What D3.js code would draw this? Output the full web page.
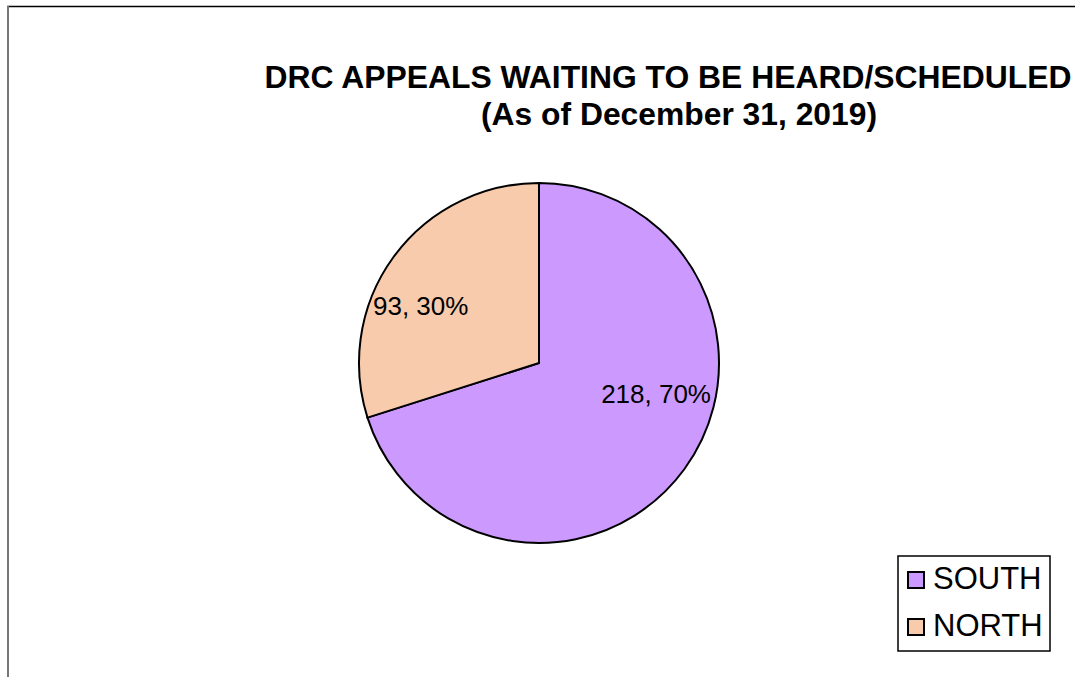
<!DOCTYPE html>
<html>
<head>
<meta charset="utf-8">
<script src="https://cdn.jsdelivr.net/npm/d3@7"></script>
<style>
  body { margin: 0; background: #fff; }
  svg { display: block; font-family: "Liberation Sans", Arial, sans-serif; }
</style>
</head>
<body>
<div id="chart"></div>
<script>
var categories = ['SOUTH', 'NORTH'],
    values = [218, 93],
    colors = ['#CC99FF', '#F8CBAD'],
    titleLines = ['DRC APPEALS WAITING TO BE HEARD/SCHEDULED', '(As of December 31, 2019)'];

var width = 1075, height = 677;

var svg = d3.select('#chart').append('svg')
    .attr('width', width)
    .attr('height', height);

// frame edges (only top and left are in view)
svg.append('line').attr('x1', 7).attr('y1', 6.5).attr('x2', width).attr('y2', 6.5)
    .attr('stroke', '#000').attr('stroke-width', 1.5);
svg.append('line').attr('x1', 8).attr('y1', 6).attr('x2', 8).attr('y2', height)
    .attr('stroke', '#777').attr('stroke-width', 2);

// title, squeezed to the narrow look of the original
svg.append('text')
    .attr('x', 668).attr('y', 88)
    .attr('text-anchor', 'middle')
    .attr('font-weight', 'bold').attr('font-size', 32)
    .attr('textLength', 807).attr('lengthAdjust', 'spacingAndGlyphs')
    .text(titleLines[0]);
svg.append('text')
    .attr('x', 679).attr('y', 125)
    .attr('text-anchor', 'middle')
    .attr('font-weight', 'bold').attr('font-size', 32)
    .attr('textLength', 396).attr('lengthAdjust', 'spacingAndGlyphs')
    .text(titleLines[1]);

// pie
var cx = 539, cy = 363, r = 180;
var total = d3.sum(values);
var data = categories.map(function(c, i) { return { name: c, value: values[i], color: colors[i] }; });

var pie = d3.pie().sort(null).value(function(d) { return d.value; });
var arc = d3.arc().innerRadius(0).outerRadius(r);

var g = svg.append('g').attr('transform', 'translate(' + cx + ',' + cy + ')');
var arcs = pie(data);

g.selectAll('path').data(arcs).enter().append('path')
    .attr('d', arc)
    .attr('fill', function(d) { return d.data.color; })
    .attr('stroke', '#000').attr('stroke-width', 2)
    .attr('stroke-linejoin', 'miter');

// data labels sit against the rim, like the spreadsheet does
g.selectAll('text.lbl').data(arcs).enter().append('text')
    .attr('class', 'lbl')
    .attr('font-size', 26)
    .attr('text-anchor', function(d, i) { return i === 0 ? 'end' : 'start'; })
    .attr('x', function(d, i) { return i === 0 ? 172 : -166; })
    .attr('y', function(d, i) { return i === 0 ? 40 : -48; })
    .text(function(d) {
      return d.data.value + ', ' + Math.round(d.data.value / total * 100) + '%';
    });

// legend
var legend = svg.append('g');
legend.append('rect')
    .attr('x', 898).attr('y', 556).attr('width', 152).attr('height', 95)
    .attr('fill', '#fff').attr('stroke', '#000').attr('stroke-width', 1.5);

var items = legend.selectAll('g.item').data(data).enter().append('g')
    .attr('class', 'item')
    .attr('transform', function(d, i) { return 'translate(908,' + (572 + i * 47) + ')'; });
items.append('rect')
    .attr('width', 16).attr('height', 16)
    .attr('fill', function(d) { return d.color; })
    .attr('stroke', '#000').attr('stroke-width', 2);
items.append('text')
    .attr('x', 25).attr('y', 17)
    .attr('font-size', 31)
    .text(function(d) { return d.name; });
</script>
</body>
</html>
